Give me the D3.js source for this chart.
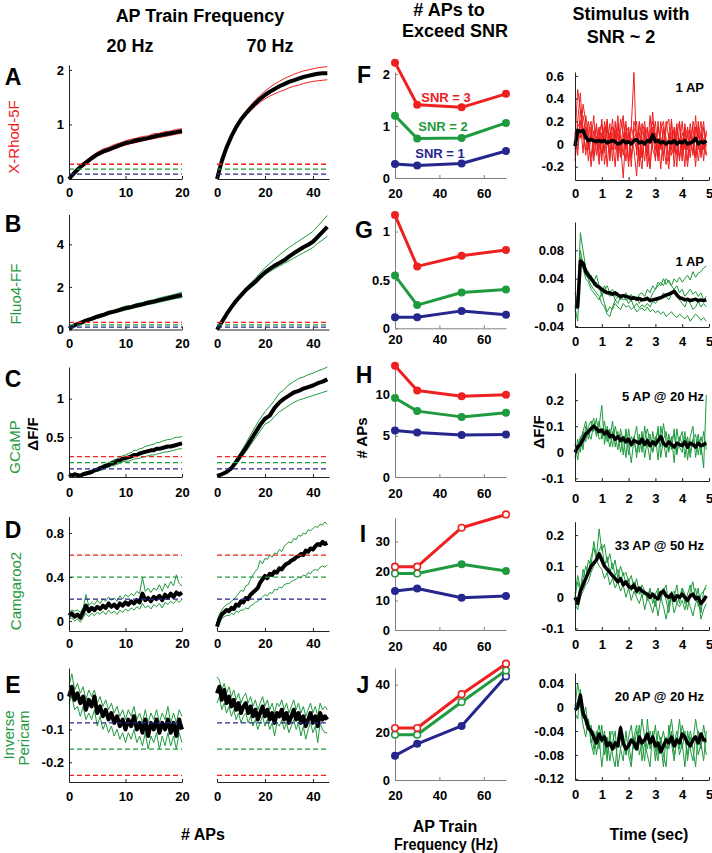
<!DOCTYPE html>
<html lang="en">
<head>
  <meta charset="UTF-8">
  <title>Indicator SNR figure</title>
  <script src="https://d3js.org/d3.v7.min.js"></script>
  <style>
    body { margin: 0; background: #fff; }
    svg { display: block; }
    text { font-family: "Liberation Sans", Arial, sans-serif; }
  </style>
</head>
<body>
<script>
// ---------- data: AP train responses (mean + two single-cell traces) ----------
// 20 Hz columns, sampled every apStep20 APs; 70 Hz columns every apStep70 APs
const a20Mean = [0,0.12,0.22,0.3,0.38,0.45,0.5,0.54,0.58,0.62,0.66,0.68,0.71,0.73,0.75,0.78,0.8,0.82,0.84,0.86,0.88];
const a20Hi = [0.01,0.16,0.26,0.34,0.42,0.49,0.55,0.58,0.63,0.66,0.7,0.73,0.75,0.78,0.79,0.83,0.84,0.87,0.88,0.91,0.92];
const a20Lo = [0,0.09,0.19,0.27,0.35,0.42,0.47,0.51,0.55,0.59,0.62,0.65,0.67,0.7,0.72,0.74,0.76,0.78,0.8,0.82,0.84];
const a70Mean = [0,0.33,0.58,0.78,0.95,1.09,1.2,1.3,1.39,1.47,1.54,1.6,1.65,1.7,1.74,1.78,1.81,1.84,1.87,1.89,1.91,1.93,1.94,1.94];
const a70Hi = [0,0.34,0.6,0.8,0.98,1.12,1.24,1.35,1.45,1.53,1.61,1.68,1.74,1.79,1.84,1.88,1.92,1.95,1.98,2.0,2.02,2.04,2.05,2.06];
const a70Lo = [0,0.32,0.56,0.76,0.92,1.06,1.16,1.25,1.33,1.41,1.47,1.52,1.56,1.6,1.63,1.67,1.7,1.72,1.75,1.77,1.79,1.8,1.81,1.82];

const b20Mean = [0.05,0.2,0.3,0.42,0.5,0.6,0.68,0.78,0.84,0.92,1.0,1.05,1.13,1.18,1.26,1.31,1.38,1.44,1.5,1.56,1.62];
const b20Hi = [0.08,0.25,0.38,0.48,0.58,0.68,0.74,0.86,0.92,1.0,1.1,1.12,1.22,1.27,1.35,1.4,1.48,1.55,1.6,1.68,1.75];
const b20Lo = [0.02,0.16,0.25,0.36,0.44,0.54,0.62,0.7,0.78,0.84,0.92,0.98,1.04,1.1,1.17,1.22,1.28,1.34,1.4,1.46,1.5];
const b70Mean = [0,0.35,0.72,1.05,1.35,1.6,1.85,2.05,2.25,2.48,2.68,2.85,3.0,3.12,3.25,3.42,3.58,3.72,3.86,3.98,4.12,4.35,4.58,4.82];
const b70Hi = [0,0.37,0.76,1.1,1.42,1.68,1.95,2.18,2.4,2.65,2.9,3.1,3.3,3.5,3.68,3.85,4.0,4.15,4.3,4.45,4.6,4.85,5.1,5.35];
const b70Lo = [0,0.33,0.68,1.0,1.3,1.53,1.77,1.95,2.12,2.35,2.58,2.72,2.85,2.98,3.1,3.22,3.35,3.48,3.6,3.72,3.85,4.05,4.2,4.38];

const c20Mean = [0.02,0.0,0.02,0.01,0.0,0.02,0.03,0.04,0.05,0.07,0.08,0.1,0.11,0.13,0.14,0.16,0.17,0.19,0.2,0.22,0.23,0.24,0.25,0.27,0.27,0.29,0.3,0.31,0.32,0.33,0.33,0.35,0.35,0.36,0.37,0.38,0.38,0.39,0.4,0.41,0.42];
const c20Hi = [0.03,0.02,0.03,0.03,0.02,0.04,0.05,0.06,0.07,0.09,0.1,0.12,0.14,0.15,0.17,0.19,0.21,0.22,0.24,0.26,0.27,0.29,0.3,0.33,0.33,0.35,0.36,0.38,0.39,0.4,0.41,0.43,0.43,0.45,0.46,0.47,0.47,0.49,0.5,0.5,0.51];
const c20Lo = [0.01,-0.01,0.01,0.0,-0.01,0.01,0.01,0.02,0.03,0.05,0.06,0.07,0.08,0.1,0.11,0.13,0.13,0.15,0.16,0.18,0.19,0.19,0.2,0.22,0.22,0.23,0.24,0.25,0.26,0.27,0.27,0.28,0.29,0.3,0.31,0.31,0.32,0.33,0.34,0.35,0.35];
const c70Mean = [0,0.02,0.05,0.1,0.18,0.27,0.36,0.46,0.56,0.66,0.74,0.78,0.88,0.95,1.0,1.04,1.08,1.1,1.13,1.15,1.17,1.2,1.22,1.25];
const c70Hi = [0.01,0.03,0.07,0.13,0.22,0.31,0.42,0.53,0.64,0.74,0.83,0.9,0.98,1.07,1.12,1.18,1.22,1.26,1.28,1.31,1.33,1.36,1.38,1.41];
const c70Lo = [0,0.01,0.04,0.08,0.15,0.23,0.31,0.4,0.49,0.58,0.67,0.7,0.77,0.83,0.87,0.91,0.95,0.98,1.0,1.02,1.04,1.06,1.08,1.1];

const d20Mean = [0.05,0.07,0.04,0.06,0.03,0.08,0.14,0.09,0.12,0.1,0.13,0.11,0.14,0.12,0.16,0.13,0.15,0.12,0.16,0.14,0.17,0.15,0.18,0.16,0.19,0.17,0.25,0.19,0.21,0.18,0.22,0.2,0.23,0.19,0.24,0.21,0.25,0.22,0.26,0.24,0.26];
const d20Hi = [0.08,0.1,0.09,0.1,0.08,0.12,0.24,0.14,0.17,0.15,0.19,0.16,0.2,0.18,0.22,0.19,0.21,0.18,0.23,0.2,0.24,0.22,0.25,0.23,0.27,0.25,0.4,0.27,0.3,0.26,0.3,0.28,0.33,0.27,0.34,0.3,0.36,0.32,0.42,0.34,0.32];
const d20Lo = [0.02,0.03,0.0,0.02,-0.01,0.03,0.07,0.04,0.07,0.05,0.08,0.06,0.09,0.06,0.1,0.07,0.09,0.06,0.1,0.08,0.11,0.09,0.12,0.1,0.13,0.11,0.16,0.12,0.14,0.11,0.15,0.13,0.16,0.12,0.17,0.15,0.18,0.16,0.19,0.17,0.2];
const d70Mean = [-0.05,0.02,0.06,0.08,0.1,0.09,0.12,0.11,0.15,0.14,0.18,0.17,0.21,0.2,0.24,0.26,0.28,0.3,0.35,0.38,0.41,0.39,0.43,0.42,0.45,0.44,0.48,0.47,0.5,0.52,0.53,0.55,0.56,0.58,0.59,0.61,0.6,0.64,0.63,0.66,0.65,0.68,0.7,0.69,0.72,0.7,0.71];
const d70Hi = [-0.02,0.06,0.1,0.13,0.15,0.16,0.18,0.2,0.22,0.25,0.28,0.27,0.32,0.33,0.38,0.42,0.45,0.48,0.55,0.52,0.57,0.56,0.6,0.58,0.62,0.61,0.65,0.63,0.68,0.7,0.72,0.71,0.75,0.74,0.78,0.77,0.8,0.79,0.83,0.82,0.84,0.86,0.85,0.88,0.87,0.9,0.88];
const d70Lo = [-0.07,-0.02,0.02,0.04,0.05,0.05,0.07,0.06,0.09,0.08,0.1,0.1,0.12,0.11,0.14,0.15,0.17,0.18,0.2,0.22,0.24,0.23,0.26,0.25,0.29,0.28,0.31,0.3,0.33,0.34,0.34,0.36,0.37,0.38,0.4,0.39,0.42,0.41,0.44,0.43,0.46,0.47,0.46,0.49,0.5,0.49,0.51];

const e20Mean = [0.0,0.03,-0.01,0.01,-0.02,0.0,-0.04,-0.01,-0.03,0.0,-0.05,-0.03,-0.06,-0.04,-0.07,-0.05,-0.08,-0.06,-0.09,-0.07,-0.1,-0.07,-0.09,-0.06,-0.1,-0.08,-0.11,-0.07,-0.12,-0.08,-0.1,-0.07,-0.11,-0.08,-0.1,-0.07,-0.11,-0.08,-0.12,-0.07,-0.1];
const e20Hi = [0.03,0.07,0.02,0.04,0.01,0.03,-0.01,0.02,0.0,0.02,-0.02,0.0,-0.03,-0.01,-0.04,-0.02,-0.05,-0.03,-0.06,-0.04,-0.07,-0.04,-0.06,-0.03,-0.07,-0.05,-0.08,-0.04,-0.08,-0.05,-0.07,-0.04,-0.08,-0.05,-0.07,-0.03,-0.08,-0.05,-0.08,-0.04,-0.06];
const e20Lo = [-0.02,0.0,-0.04,-0.03,-0.06,-0.03,-0.07,-0.05,-0.07,-0.04,-0.09,-0.06,-0.1,-0.08,-0.11,-0.09,-0.12,-0.1,-0.13,-0.11,-0.14,-0.11,-0.13,-0.1,-0.14,-0.12,-0.15,-0.11,-0.16,-0.12,-0.14,-0.11,-0.16,-0.12,-0.15,-0.11,-0.15,-0.12,-0.16,-0.11,-0.14];
const e70Mean = [0.01,0.03,-0.01,0.02,-0.02,0.0,-0.03,-0.01,-0.04,-0.02,-0.05,-0.03,-0.02,-0.05,-0.03,-0.06,-0.04,-0.07,-0.05,-0.03,-0.06,-0.04,-0.07,-0.05,-0.08,-0.05,-0.06,-0.04,-0.07,-0.05,-0.08,-0.06,-0.04,-0.07,-0.05,-0.08,-0.06,-0.09,-0.07,-0.05,-0.08,-0.06,-0.09,-0.05,-0.07,-0.06,-0.07];
const e70Hi = [0.06,0.05,0.02,0.04,0.01,0.03,0.0,0.02,-0.01,0.01,-0.02,0.0,0.01,-0.02,0.0,-0.03,-0.01,-0.04,-0.02,0.0,-0.03,-0.01,-0.04,-0.02,-0.05,-0.02,-0.03,-0.01,-0.04,-0.02,-0.05,-0.03,-0.01,-0.04,-0.02,-0.05,-0.03,-0.06,-0.04,-0.02,-0.05,-0.03,-0.06,-0.02,-0.04,-0.03,-0.04];
const e70Lo = [-0.02,0.0,-0.04,-0.02,-0.05,-0.03,-0.06,-0.04,-0.07,-0.05,-0.08,-0.06,-0.05,-0.08,-0.06,-0.09,-0.07,-0.1,-0.08,-0.06,-0.09,-0.07,-0.1,-0.08,-0.12,-0.08,-0.09,-0.07,-0.1,-0.08,-0.11,-0.09,-0.07,-0.1,-0.08,-0.12,-0.09,-0.13,-0.1,-0.08,-0.11,-0.09,-0.14,-0.08,-0.1,-0.11,-0.11];

// SNR thresholds (SNR = 1, 2, 3) per indicator
const thrA = [0.09, 0.18, 0.27];
const thrB = [0.11, 0.22, 0.33];
const thrC = [0.09, 0.17, 0.25];
const thrD = [0.2, 0.4, 0.6];
const thrE = [-0.08, -0.16, -0.24];

// ---------- # APs to exceed SNR ----------
const snrFreq = [20, 30, 50, 70];
const fSnr3 = [2.22, 1.41, 1.36, 1.62], fSnr2 = [1.2, 0.76, 0.77, 1.06], fSnr1 = [0.27, 0.24, 0.28, 0.52];
const gSnr3 = [1.17, 0.64, 0.75, 0.81], gSnr2 = [0.545, 0.24, 0.37, 0.4], gSnr1 = [0.114, 0.114, 0.18, 0.14];
const hSnr3 = [13.5, 10.5, 9.8, 10.0], hSnr2 = [9.6, 8.0, 7.3, 7.8], hSnr1 = [5.65, 5.4, 5.1, 5.15];
const iSnr3 = [21.5, 21.5, 34.7, 39.2], iSnr2 = [19.2, 19.2, 22.3, 20.0], iSnr1 = [13.2, 14.1, 10.95, 11.5];
const jSnr3 = [21.8, 21.8, 36, 48.8], jSnr2 = [19, 19, 32.7, 46], jSnr1 = [10.2, 15.2, 22.7, 43.5];
// extrapolated (open) points
const iOpen3 = [1,1,1,1], iOpen2 = [1,1,0,0], iOpen1 = [0,0,0,0];
const jOpen3 = [1,1,1,1], jOpen2 = [1,1,1,1], jOpen1 = [0,0,0,1];

// ---------- stimulus with SNR ~ 2 (every 0.1 s) ----------
const fMean = [-0.02,0.12,0.11,0.12,0.06,0.03,0.04,0.03,0.02,0.03,0.02,0.03,0.01,0.02,0.03,0.02,0.0,0.01,0.03,0.01,0.02,0.0,0.03,0.04,0.01,0.02,0.0,0.03,0.02,0.08,0.02,0.03,0.01,0.02,0.0,0.02,0.01,0.03,0.0,0.02,0.01,0.03,0.0,0.01,0.02,0.05,0.0,0.02,0.01,0.03];
const fT1 = [0.05,0.48,0.3,0.1,-0.05,0.2,0.02,0.25,-0.1,0.1,0.18,-0.08,0.15,0.0,0.22,-0.05,0.1,-0.12,0.2,0.05,0.02,0.15,0.63,-0.1,0.2,0.05,-0.15,0.12,0.0,0.28,-0.05,0.15,0.02,-0.1,0.2,0.05,0.1,-0.08,0.15,0.0,0.2,-0.05,0.1,0.12,-0.1,0.15,0.05,0.2,-0.05,0.1];
const fT2 = [-0.1,0.2,0.45,0.05,0.15,-0.15,0.1,-0.05,0.18,-0.12,0.05,0.15,-0.2,0.1,-0.05,0.12,-0.15,0.08,-0.1,0.2,-0.15,0.05,-0.05,-0.28,0.1,-0.12,0.05,0.15,-0.2,0.05,0.1,-0.15,0.2,0.02,-0.18,0.1,-0.05,0.15,-0.1,0.05,-0.15,0.12,-0.05,0.18,0.0,-0.12,0.1,-0.08,0.15,-0.02];
const fT3 = [0.0,-0.05,0.2,0.25,0.1,0.0,-0.12,0.12,0.05,-0.18,0.1,-0.05,0.2,-0.12,0.05,-0.2,0.18,0.0,-0.3,0.1,0.15,-0.1,0.05,0.1,-0.15,0.18,0.02,-0.1,0.25,-0.05,-0.12,0.05,-0.22,0.12,0.0,-0.1,0.2,-0.05,0.05,-0.15,0.1,0.02,-0.2,0.05,0.15,-0.1,0.2,-0.12,0.05,0.08];
const fT4 = [-0.15,0.1,0.05,0.35,0.2,-0.05,0.15,-0.1,0.02,0.12,-0.15,0.2,0.05,-0.1,0.15,0.1,-0.05,0.22,0.1,-0.15,0.1,-0.2,0.2,0.1,-0.05,-0.22,0.15,-0.05,0.1,0.2,0.05,-0.1,0.12,0.2,-0.05,-0.22,0.05,0.12,-0.2,0.18,-0.05,0.15,0.08,-0.12,0.2,0.1,-0.15,0.05,0.2,-0.1];
const fT5 = [0.1,-0.1,0.3,0.15,-0.1,0.1,0.2,-0.15,0.05,0.15,-0.1,0.05,0.22,-0.15,0.1,0.0,0.25,-0.1,0.05,0.1,-0.2,0.15,0.05,-0.05,0.18,-0.12,0.1,-0.2,0.12,0.05,0.2,-0.1,0.05,-0.15,0.15,0.22,-0.1,0.0,0.18,-0.12,0.05,-0.2,0.15,0.0,-0.08,0.25,-0.05,0.1,-0.15,0.12];
const fT6 = [-0.05,0.15,0.2,-0.08,0.25,0.1,-0.2,0.05,0.15,-0.05,0.22,-0.18,0.0,0.18,-0.15,0.2,-0.1,0.12,0.25,-0.05,0.15,-0.12,0.1,0.2,-0.2,0.08,0.2,-0.08,-0.22,0.15,-0.15,0.2,-0.05,0.15,0.05,-0.15,0.22,-0.2,0.1,0.2,-0.1,0.18,-0.15,0.1,0.05,-0.2,0.15,0.1,0.0,-0.1];

const gMean = [0,0.0,0.065,0.062,0.05,0.045,0.04,0.035,0.03,0.028,0.025,0.022,0.02,0.02,0.018,0.02,0.017,0.015,0.016,0.015,0.014,0.012,0.013,0.011,0.012,0.01,0.011,0.012,0.009,0.01,0.011,0.012,0.013,0.015,0.017,0.018,0.02,0.022,0.017,0.013,0.012,0.01,0.011,0.009,0.01,0.011,0.009,0.01,0.009,0.01];
const gT1 = [0.0,0.02,0.08,0.06,0.055,0.04,0.045,0.03,0.035,0.025,0.02,0.03,0.02,0.015,0.02,0.01,0.015,0.012,0.018,0.01,0.012,0.008,0.015,0.01,0.018,0.02,0.015,0.025,0.02,0.03,0.025,0.035,0.03,0.04,0.032,0.038,0.03,0.04,0.035,0.042,0.035,0.04,0.045,0.038,0.05,0.042,0.048,0.05,0.055,0.058];
const gT2 = [0.0,-0.03,0.06,0.055,0.04,0.035,0.025,0.02,0.015,0.01,0.02,0.005,-0.01,0.0,-0.005,0.005,0.0,-0.005,0.005,0.0,0.002,-0.005,0.0,-0.01,-0.005,-0.002,-0.008,0.0,-0.01,-0.005,-0.012,-0.008,-0.015,-0.01,-0.02,-0.015,-0.01,-0.018,-0.022,-0.015,-0.02,-0.025,-0.018,-0.03,-0.022,-0.015,-0.02,-0.028,-0.022,-0.03];
const gT3 = [0.02,0.0,0.105,0.08,0.055,0.05,0.04,0.035,0.045,0.03,0.015,0.025,0.03,0.02,0.025,0.015,0.02,0.01,0.015,0.02,0.012,0.018,0.01,0.015,0.005,0.012,0.008,0.015,0.01,0.02,0.025,0.03,0.035,0.03,0.04,0.035,0.03,0.025,0.03,0.02,0.025,0.015,0.02,0.025,0.018,0.022,0.015,0.02,0.01,0.015];
const gT4 = [-0.01,0.01,0.07,0.06,0.045,0.04,0.03,0.025,0.02,0.015,0.005,0.0,-0.015,-0.02,0.0,0.01,0.005,0.015,0.01,0.012,0.005,0.01,0.0,0.005,-0.002,0.003,0.0,0.005,0.0,0.008,0.005,0.01,0.012,0.02,0.015,0.01,0.018,0.025,0.02,0.01,0.005,0.0,0.01,0.005,-0.005,0.0,0.008,0.0,0.005,0.0];

const hMean = [0.0,0.02,0.03,0.05,0.07,0.08,0.09,0.1,0.09,0.08,0.085,0.07,0.08,0.06,0.065,0.05,0.06,0.045,0.055,0.04,0.05,0.03,0.045,0.04,0.035,0.05,0.03,0.045,0.025,0.04,0.03,0.045,0.06,0.035,0.025,0.04,0.03,0.02,0.035,0.03,0.025,0.04,0.02,0.035,0.03,0.02,0.035,0.025,0.03,0.035];
const hT1 = [0.03,-0.03,0.05,0.08,0.12,0.05,0.1,0.13,0.06,0.1,0.18,0.03,0.1,0.05,0.12,0.02,0.08,0.0,0.06,-0.02,0.09,0.02,0.06,-0.02,0.07,0.0,0.1,0.03,-0.03,0.08,0.02,0.1,-0.02,0.05,0.08,0.0,0.06,-0.04,0.09,0.02,0.0,0.08,-0.03,0.06,0.1,-0.02,0.05,0.03,-0.06,0.22];
const hT2 = [-0.02,0.05,0.0,0.08,0.04,0.1,0.12,0.08,0.13,0.05,0.06,0.12,0.04,0.09,0.02,0.1,0.05,0.07,-0.01,0.09,0.03,-0.04,0.05,0.1,0.0,0.08,-0.02,0.05,0.07,0.0,0.06,-0.03,0.1,0.04,-0.02,0.07,0.01,0.09,-0.01,0.05,0.08,-0.02,0.06,0.0,0.05,0.07,-0.01,0.06,0.02,0.04];
const hT3 = [0.0,0.02,0.06,0.01,0.1,0.07,0.05,0.11,0.07,0.12,0.05,0.09,0.07,0.02,0.08,0.06,0.01,0.09,0.04,0.07,-0.01,0.06,0.04,0.0,0.06,0.03,0.05,0.09,0.04,0.0,0.05,0.08,0.02,0.11,0.04,0.01,0.05,0.07,0.0,0.06,0.03,0.06,0.04,-0.02,0.05,0.02,0.07,-0.01,0.08,0.01];

const iMean = [0.0,-0.02,0.02,0.04,0.06,0.08,0.1,0.11,0.12,0.14,0.12,0.1,0.09,0.08,0.07,0.06,0.05,0.06,0.04,0.05,0.035,0.03,0.04,0.02,0.03,0.02,0.015,0.01,0.0,0.01,0.0,-0.005,0.015,0.02,0.005,0.0,0.01,-0.01,0.005,0.0,0.01,0.0,-0.01,0.005,0.01,-0.005,0.0,-0.02,-0.01,0.005];
const iT1 = [0.0,0.05,0.02,0.09,0.06,0.12,0.1,0.18,0.13,0.22,0.15,0.17,0.11,0.14,0.09,0.12,0.06,0.1,0.07,0.08,0.05,0.07,0.03,0.06,0.01,0.04,0.02,0.0,0.03,-0.02,0.01,0.03,-0.01,0.02,0.04,-0.03,0.02,0.0,0.04,-0.02,0.03,0.01,-0.04,0.02,0.05,-0.01,0.03,-0.05,0.02,0.04];
const iT2 = [-0.02,-0.04,0.0,0.02,0.04,0.05,0.08,0.1,0.12,0.1,0.09,0.06,0.08,0.04,0.06,0.03,0.05,0.02,0.04,0.0,0.03,-0.01,0.02,0.0,-0.02,0.01,-0.04,0.0,-0.02,-0.05,-0.01,-0.06,0.0,-0.03,-0.07,-0.02,0.0,-0.05,-0.02,-0.03,-0.01,-0.04,0.0,-0.03,-0.06,-0.02,0.0,-0.07,-0.04,-0.02];
const iT3 = [0.01,0.07,0.03,0.06,0.1,0.07,0.13,0.16,0.12,0.15,0.17,0.1,0.13,0.08,0.11,0.07,0.09,0.05,0.08,0.04,0.06,0.02,0.05,0.01,0.03,0.0,0.02,-0.01,0.02,0.01,-0.03,0.02,0.0,0.03,-0.01,-0.05,0.01,0.02,-0.02,0.0,0.03,-0.02,0.01,0.04,0.0,0.03,-0.03,0.01,0.02,0.03];

const jMean = [-0.005,0.0,0.02,-0.01,-0.02,-0.035,-0.04,-0.05,-0.06,-0.045,-0.055,-0.05,-0.065,-0.06,-0.07,-0.06,-0.065,-0.035,-0.06,-0.07,-0.065,-0.055,-0.06,-0.07,-0.05,-0.06,-0.055,-0.045,-0.06,-0.05,-0.065,-0.06,-0.075,-0.065,-0.055,-0.06,-0.05,-0.065,-0.055,-0.06,-0.045,-0.05,-0.06,-0.065,-0.055,-0.05,-0.06,-0.045,-0.055,-0.055];
const jT1 = [0.0,0.04,0.01,0.0,-0.03,-0.02,-0.06,-0.04,-0.08,-0.05,-0.1,-0.06,-0.09,-0.04,-0.08,-0.1,-0.05,-0.07,-0.09,-0.04,-0.08,-0.1,-0.05,-0.07,-0.03,-0.09,-0.06,-0.08,-0.1,-0.04,-0.07,-0.09,-0.05,-0.08,-0.1,-0.03,-0.06,-0.09,-0.05,-0.08,-0.06,-0.1,-0.04,-0.07,-0.09,-0.05,-0.08,-0.06,-0.09,-0.04];
const jT2 = [-0.01,-0.02,0.03,-0.02,0.0,-0.04,-0.03,-0.07,-0.05,-0.03,-0.06,-0.04,-0.08,-0.05,-0.04,-0.07,-0.06,-0.03,-0.05,-0.08,-0.05,-0.03,-0.07,-0.04,-0.06,-0.02,-0.05,-0.07,-0.04,-0.06,-0.03,-0.08,-0.06,-0.04,-0.07,-0.05,-0.02,-0.06,-0.04,-0.07,-0.03,-0.05,-0.08,-0.04,-0.06,-0.02,-0.05,-0.07,-0.03,-0.06];
const jT3 = [0.0,0.01,0.0,-0.03,-0.05,-0.02,-0.06,-0.08,-0.04,-0.07,-0.03,-0.08,-0.05,-0.09,-0.06,-0.04,-0.1,-0.07,-0.05,-0.08,-0.06,-0.09,-0.05,-0.03,-0.08,-0.06,-0.09,-0.02,-0.07,-0.05,-0.09,-0.04,-0.06,-0.1,-0.05,-0.07,-0.04,-0.08,-0.06,-0.02,-0.07,-0.04,-0.09,-0.05,-0.07,-0.1,-0.04,-0.06,-0.05,-0.08];
const timeStep = 0.1;

// ---------- setup ----------
const RED = '#ee2020', GREEN = '#1f9a3e', BLUE = '#26268f', GREY = '#808080';
const thrColors = [BLUE, GREEN, RED];
const svg = d3.select('body').append('svg').attr('width', 712).attr('height', 853);

const x20 = d3.scaleLinear().domain([0, 20]).range([69, 182]);
const x70 = d3.scaleLinear().domain([0, 46.7]).range([217, 329]);
const xFreq = d3.scaleLinear().domain([20, 70]).range([395, 506]);
const xTime = d3.scaleLinear().domain([0, 5]).range([575, 709]);

const fmt = v => String(+v.toFixed(2));

function series(vals, step) { return vals.map((v, i) => [i * step, v]); }

function styleAxis(g, color) {
  g.attr('font-family', '"Liberation Sans", Arial, sans-serif').attr('font-size', 13).attr('font-weight', 'bold');
  g.select('.domain').attr('stroke', color).attr('stroke-width', 1);
  g.selectAll('.tick line').attr('stroke', color);
  g.selectAll('.tick text').attr('fill', '#000');
}

function xAxis(x, y, ticks, pad, color) {
  const yy = y.range()[0];
  svg.append('g').attr('transform', `translate(0,${yy})`)
    .call(d3.axisBottom(x).tickValues(ticks).tickSizeInner(-3).tickSizeOuter(0).tickPadding(pad).tickFormat(fmt))
    .call(g => styleAxis(g, color));
}

function yAxis(x, y, ticks, pad, color) {
  svg.append('g').attr('transform', `translate(${x.range()[0]},0)`)
    .call(d3.axisLeft(y).tickValues(ticks).tickSizeInner(-3).tickSizeOuter(0).tickPadding(pad).tickFormat(fmt))
    .call(g => styleAxis(g, color));
}

function drawLine(x, y, pts, color, width) {
  const line = d3.line().x(d => x(d[0])).y(d => y(d[1]));
  svg.append('path').datum(pts).attr('d', line)
    .attr('fill', 'none').attr('stroke', color).attr('stroke-width', width)
    .attr('stroke-linejoin', 'round');
}

// ---------- columns 1 and 2: responses to AP trains ----------
const rows = [
  {y: d3.scaleLinear().domain([0, 2.09]).range([179, 65]), ticks: [0, 1, 2], thr: thrA, col: RED, xpad: 9,
   s20: [a20Mean, a20Hi, a20Lo, 1], s70: [a70Mean, a70Hi, a70Lo, 2]},
  {y: d3.scaleLinear().domain([0, 5.4]).range([329.5, 214.5]), ticks: [0, 2, 4], thr: thrB, col: GREEN, xpad: 9,
   s20: [b20Mean, b20Hi, b20Lo, 1], s70: [b70Mean, b70Hi, b70Lo, 2]},
  {y: d3.scaleLinear().domain([-0.015, 1.41]).range([477, 367]), ticks: [0, 0.5, 1], thr: thrC, col: GREEN, xpad: 11,
   s20: [c20Mean, c20Hi, c20Lo, 0.5], s70: [c70Mean, c70Hi, c70Lo, 2]},
  {y: d3.scaleLinear().domain([-0.09, 0.95]).range([631, 516.5]), ticks: [0, 0.4, 0.8], thr: thrD, col: GREEN, xpad: 8,
   s20: [d20Mean, d20Hi, d20Lo, 0.5], s70: [d70Mean, d70Hi, d70Lo, 1]},
  {y: d3.scaleLinear().domain([-0.26, 0.087]).range([782, 668]), ticks: [-0.2, -0.1, 0], thr: thrE, col: GREEN, xpad: 10,
   s20: [e20Mean, e20Hi, e20Lo, 0.5], s70: [e70Mean, e70Hi, e70Lo, 1]}
];

rows.forEach(r => {
  [[x20, r.s20, [0, 10, 20]], [x70, r.s70, [0, 20, 40]]].forEach(([x, s, xt], k) => {
    const [mean, hi, lo, step] = s;
    drawLine(x, r.y, series(hi, step), r.col, 1);
    drawLine(x, r.y, series(lo, step), r.col, 1);
    drawLine(x, r.y, series(mean, step), '#000', 4);
    r.thr.forEach((t, i) => {
      svg.append('line')
        .attr('x1', x.range()[0]).attr('x2', x.range()[1])
        .attr('y1', r.y(t)).attr('y2', r.y(t))
        .attr('stroke', thrColors[i]).attr('stroke-width', 1.3).attr('stroke-dasharray', '5,3');
    });
    xAxis(x, r.y, xt, r.xpad, '#222');
    if (k === 0) yAxis(x, r.y, r.ticks, 5, '#222');
  });
});

// ---------- column 3: # APs to exceed SNR ----------
const snrPanels = [
  {y: d3.scaleLinear().domain([0, 2.04]).range([178, 72]), ticks: [0, 1, 2], s: [fSnr1, fSnr2, fSnr3], open: null, xpad: 11},
  {y: d3.scaleLinear().domain([0, 1.14]).range([328.3, 218]), ticks: [0, 0.5, 1], s: [gSnr1, gSnr2, gSnr3], open: null, xpad: 6},
  {y: d3.scaleLinear().domain([0, 13.6]).range([477, 365]), ticks: [0, 5, 10], s: [hSnr1, hSnr2, hSnr3], open: null, xpad: 12},
  {y: d3.scaleLinear().domain([0, 38]).range([630, 518]), ticks: [0, 10, 20, 30], s: [iSnr1, iSnr2, iSnr3], open: [iOpen1, iOpen2, iOpen3], xpad: 12},
  {y: d3.scaleLinear().domain([0, 47]).range([780, 668]), ticks: [0, 20, 40], s: [jSnr1, jSnr2, jSnr3], open: [jOpen1, jOpen2, jOpen3], xpad: 11}
];

snrPanels.forEach(p => {
  xAxis(xFreq, p.y, [20, 40, 60], p.xpad, GREY);
  yAxis(xFreq, p.y, p.ticks, 5, GREY);
  p.s.forEach((vals, i) => {
    const pts = vals.map((v, j) => [snrFreq[j], v]);
    drawLine(xFreq, p.y, pts, thrColors[i], 3);
    svg.append('g').selectAll('circle').data(pts).join('circle')
      .attr('cx', d => xFreq(d[0])).attr('cy', d => p.y(d[1]))
      .attr('r', (d, j) => p.open && p.open[i][j] ? 3.3 : 4)
      .attr('fill', (d, j) => p.open && p.open[i][j] ? '#fff' : thrColors[i])
      .attr('stroke', thrColors[i]).attr('stroke-width', (d, j) => p.open && p.open[i][j] ? 1.6 : 0);
  });
});

// SNR legend labels in F
[['SNR = 3', RED, 446, 102], ['SNR = 2', GREEN, 443, 131], ['SNR = 1', BLUE, 440, 158]].forEach(([t, c, x, y]) => {
  svg.append('text').attr('x', x).attr('y', y).attr('text-anchor', 'middle')
    .attr('font-size', 13).attr('font-weight', 'bold').attr('fill', c).text(t);
});

// ---------- column 4: single stimulus at SNR ~ 2 ----------
const stimPanels = [
  {y: d3.scaleLinear().domain([-0.317, 0.634]).range([180, 72]), ticks: [-0.2, 0, 0.2, 0.4, 0.6],
   traces: [fT1, fT2, fT3, fT4, fT5, fT6], mean: fMean, col: RED, label: '1 AP', ly: 92, xpad: 9},
  {y: d3.scaleLinear().domain([-0.042, 0, 0.12]).range([327, 307, 222]), ticks: [-0.04, 0, 0.04, 0.08],
   traces: [gT1, gT2, gT3, gT4], mean: gMean, col: GREEN, label: '1 AP', ly: 266, xpad: 10},
  {y: d3.scaleLinear().domain([-0.11, 0.304]).range([481, 373]), ticks: [-0.1, 0, 0.1, 0.2],
   traces: [hT1, hT2, hT3], mean: hMean, col: GREEN, label: '5 AP @ 20 Hz', ly: 401, xpad: 13},
  {y: d3.scaleLinear().domain([-0.105, 0.243]).range([630, 521.7]), ticks: [-0.1, 0, 0.1, 0.2],
   traces: [iT1, iT2, iT3], mean: iMean, col: GREEN, label: '33 AP @ 50 Hz', ly: 550, xpad: 10},
  {y: d3.scaleLinear().domain([-0.122, 0.057]).range([780, 673]), ticks: [-0.12, -0.08, -0.04, 0, 0.04],
   traces: [jT1, jT2, jT3], mean: jMean, col: GREEN, label: '20 AP @ 20 Hz', ly: 701, xpad: 10}
];

stimPanels.forEach(p => {
  p.traces.forEach(t => drawLine(xTime, p.y, series(t, timeStep), p.col, 1));
  drawLine(xTime, p.y, series(p.mean, timeStep), '#000', 3.5);
  xAxis(xTime, p.y, [0, 1, 2, 3, 4, 5], p.xpad, '#222');
  yAxis(xTime, p.y, p.ticks, 11, '#222');
  svg.append('text').attr('x', 704).attr('y', p.ly).attr('text-anchor', 'end')
    .attr('font-size', 13).attr('font-weight', 'bold').text(p.label);
});

// ---------- titles and labels ----------
function label(t, x, y, size, opts = {}) {
  const el = svg.append('text').attr('x', x).attr('y', y).attr('text-anchor', opts.anchor || 'middle')
    .attr('font-size', size).attr('font-weight', opts.weight || 'bold').attr('fill', opts.fill || '#000').text(t);
  if (opts.rotate) el.attr('transform', `rotate(-90,${x},${y})`).attr('dominant-baseline', 'central');
  if (opts.len) el.attr('textLength', opts.len).attr('lengthAdjust', 'spacingAndGlyphs');
  return el;
}

label('AP Train Frequency', 200, 22, 18);
label('20 Hz', 130, 52, 18);
label('70 Hz', 270, 52, 18);
label('# APs to', 449, 16, 18);
label('Exceed SNR', 455, 37, 18);
label('Stimulus with', 631, 20, 18);
label('SNR ~ 2', 621, 43, 18);

label('# APs', 203, 840, 16);
label('AP Train', 445, 832, 16);
label('Frequency (Hz)', 446, 850, 16, {len: 104});
label('Time (sec)', 649, 840, 16);

// panel letters
[['A', 13, 85], ['B', 13, 232], ['C', 13, 387], ['D', 13, 538], ['E', 13, 693],
 ['F', 364, 83], ['G', 364, 238], ['H', 364, 383], ['I', 363, 542], ['J', 363, 693]].forEach(([t, x, y]) => label(t, x, y, 23));

// indicator names (rotated)
label('X-Rhod-5F', 13, 137, 15, {rotate: true, weight: 'normal', fill: RED});
label('Fluo4-FF', 15, 294, 15, {rotate: true, weight: 'normal', fill: GREEN});
label('GCaMP', 14, 447, 15, {rotate: true, weight: 'normal', fill: GREEN});
label('\u0394F/F', 32, 434, 15, {rotate: true});
label('Camgaroo2', 15, 591, 15, {rotate: true, weight: 'normal', fill: GREEN});
label('Inverse', 8, 735, 15, {rotate: true, weight: 'normal', fill: GREEN});
label('Pericam', 23, 738, 15, {rotate: true, weight: 'normal', fill: GREEN});
label('# APs', 361, 438, 15, {rotate: true});
label('\u0394F/F', 538, 432, 15, {rotate: true});
</script>
</body>
</html>
